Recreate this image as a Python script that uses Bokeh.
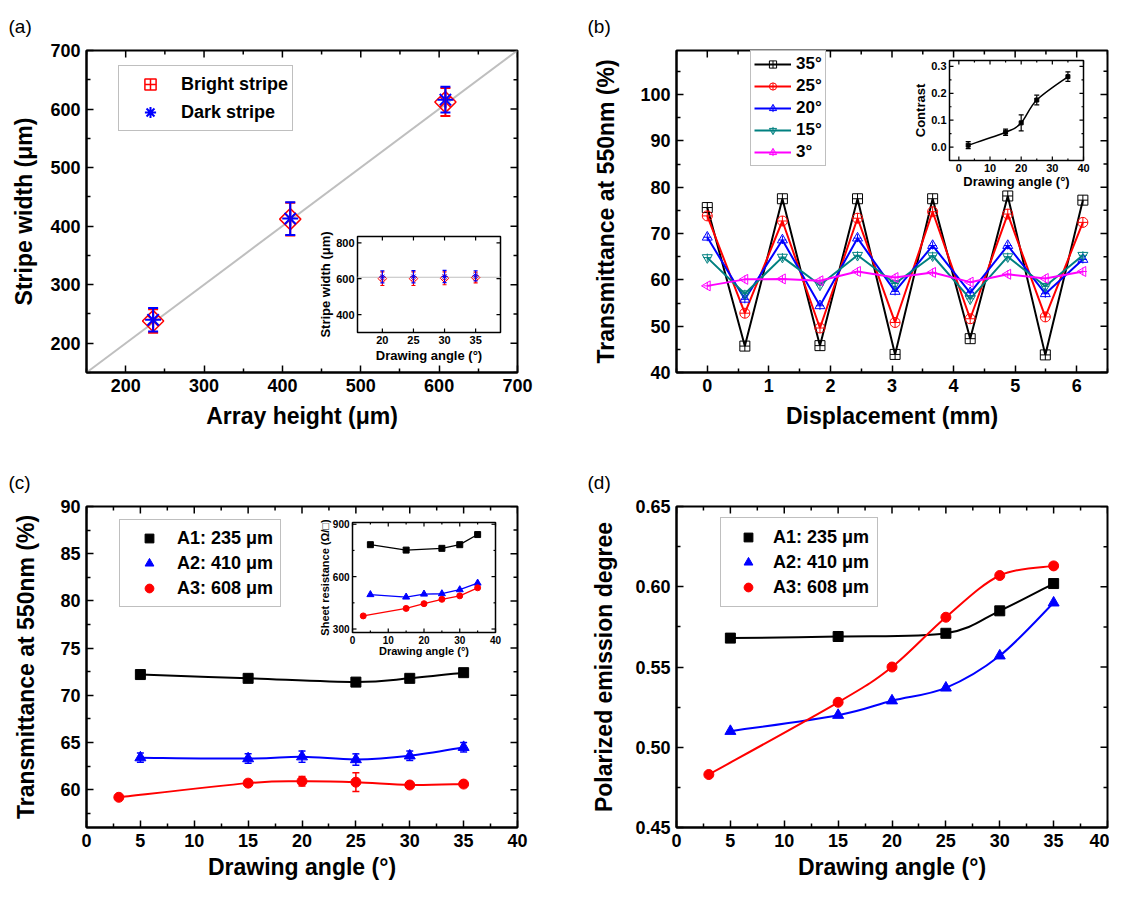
import math
from bokeh.plotting import figure
from bokeh.layouts import column, row
from bokeh.models import (Range1d, Legend, LegendItem, Whisker, TeeHead,
                          ColumnDataSource, Slope, FixedTicker, PrintfTickFormatter)
from bokeh.core.properties import value
from bokeh.embed import file_html
from bokeh.resources import INLINE

FONT = "Liberation Sans"
DEG = "\u00b0"
MU = "\u03bc"

# ---------------- data ----------------
# (a) stripe width vs array height
a_array_height = [235, 410, 608]
a_bright = [238, 412, 612]
a_bright_err = [20, 28, 24]
a_dark = [240, 413, 616]
a_dark_err = [20, 28, 22]
a_ticks = [200, 300, 400, 500, 600, 700]
a_minor = [150, 250, 350, 450, 550, 650]
# (a) inset
a_ins_angle = [20, 25, 30, 35]
a_ins_bright = [600, 600, 602, 606]
a_ins_bright_err = [38, 38, 36, 30]
a_ins_dark = [610, 611, 612, 616]
a_ins_dark_err = [34, 34, 34, 28]
a_ins_ref = [608]
a_ins_xticks = [20, 25, 30, 35]
a_ins_yticks = [400, 600, 800]

# (b) transmittance vs displacement
b_disp = [0, 0.61, 1.22, 1.83, 2.44, 3.05, 3.66, 4.27, 4.88, 5.49, 6.10]
b_labels = ["35" + DEG, "25" + DEG, "20" + DEG, "15" + DEG, "3" + DEG]
b_35 = [75.6, 45.7, 77.5, 45.8, 77.5, 43.9, 77.5, 47.3, 78.1, 43.8, 77.2]
b_25 = [73.8, 52.8, 72.7, 49.6, 73.3, 50.8, 74.7, 51.6, 74.2, 52.0, 72.4]
b_20 = [69.2, 55.8, 68.6, 54.4, 69.0, 57.5, 67.4, 57.2, 67.4, 57.0, 64.4]
b_15 = [64.8, 57.0, 64.9, 58.9, 65.3, 59.2, 65.2, 55.9, 65.0, 58.6, 65.3]
b_3 = [58.7, 60.1, 60.2, 59.8, 61.8, 60.5, 61.6, 59.5, 61.2, 60.3, 61.8]
b_xticks = [0, 1, 2, 3, 4, 5, 6]
b_xminor = [-0.5, 0.5, 1.5, 2.5, 3.5, 4.5, 5.5, 6.5]
b_yticks = [40, 50, 60, 70, 80, 90, 100]
b_yminor = [45, 55, 65, 75, 85, 95, 105]
# (b) inset
b_ins_angle = [3, 15, 20, 25, 35]
b_ins_contrast = [0.007, 0.055, 0.090, 0.175, 0.262]
b_ins_err = [0.013, 0.012, 0.030, 0.018, 0.018]
b_ins_xticks = [0, 10, 20, 30, 40]
b_ins_xminor = [5, 15, 25, 35]
b_ins_yticks = [0.0, 0.1, 0.2, 0.3]
b_ins_yminor = [0.05, 0.15, 0.25]

# (c) transmittance vs drawing angle
c_labels = ["A1: 235 " + MU + "m", "A2: 410 " + MU + "m", "A3: 608 " + MU + "m"]
c_a1_x = [5, 15, 25, 30, 35]
c_a1 = [72.2, 71.8, 71.4, 71.8, 72.4]
c_a1_err = [0.25, 0.2, 0.25, 0.2, 0.3]
c_a2_x = [5, 15, 20, 25, 30, 35]
c_a2 = [63.4, 63.3, 63.5, 63.2, 63.6, 64.5]
c_a2_err = [0.5, 0.5, 0.6, 0.6, 0.5, 0.5]
c_a3_x = [3, 15, 20, 25, 30, 35]
c_a3 = [59.2, 60.7, 60.9, 60.8, 60.5, 60.6]
c_a3_err = [0.2, 0.25, 0.5, 1.0, 0.3, 0.3]
c_xticks = [0, 5, 10, 15, 20, 25, 30, 35, 40]
c_xminor = [2.5, 7.5, 12.5, 17.5, 22.5, 27.5, 32.5, 37.5]
c_yticks = [60, 65, 70, 75, 80, 85, 90]
c_yminor = [57.5, 62.5, 67.5, 72.5, 77.5, 82.5, 87.5]
# (c) inset: sheet resistance
c_ins_a1 = [783, 752, 762, 783, 841]
c_ins_a2 = [497, 483, 500, 502, 525, 563]
c_ins_a3 = [375, 418, 445, 470, 490, 536]
c_ins_xticks = [0, 10, 20, 30, 40]
c_ins_xminor = [5, 15, 25, 35]
c_ins_yticks = [300, 600, 900]
c_ins_yminor = [450, 750]

# (d) polarized emission degree
d_a1 = [0.568, 0.569, 0.571, 0.585, 0.602]
d_a2 = [0.510, 0.520, 0.529, 0.537, 0.557, 0.590]
d_a3 = [0.483, 0.528, 0.550, 0.581, 0.607, 0.613]
d_yticks = [0.45, 0.50, 0.55, 0.60, 0.65]
d_yminor = [0.475, 0.525, 0.575, 0.625]

TEAL = "#008080"


# ---------------- helpers ----------------
def base_fig(xlim, ylim, fw, fh, mb):
    p = figure(x_range=Range1d(*xlim), y_range=Range1d(*ylim), frame_width=fw, frame_height=fh,
               min_border_left=mb[0], min_border_right=mb[1], min_border_top=mb[2],
               min_border_bottom=mb[3], toolbar_location=None, tools="", output_backend="svg")
    p.xgrid.visible = False
    p.ygrid.visible = False
    p.outline_line_color = "black"
    p.outline_line_width = 2
    p.outline_line_alpha = 1
    p.background_fill_color = "white"
    p.border_fill_color = "white"
    return p


def tick_style(ax):
    ax.axis_line_width = 2
    ax.axis_line_color = "black"
    ax.major_tick_in = 7
    ax.major_tick_out = 0
    ax.minor_tick_in = 4
    ax.minor_tick_out = 0
    ax.major_tick_line_width = 1.5
    ax.minor_tick_line_width = 1.5
    ax.major_tick_line_color = "black"
    ax.minor_tick_line_color = "black"


def style(p, xt, xm, yt, ym, xlab, ylab, yfmt=None, lab_standoff_x=8, lab_standoff_y=18):
    p.xaxis[0].ticker = FixedTicker(ticks=xt, minor_ticks=xm)
    p.yaxis[0].ticker = FixedTicker(ticks=yt, minor_ticks=ym)
    if yfmt:
        p.yaxis[0].formatter = PrintfTickFormatter(format=yfmt)
    p.xaxis[0].axis_label = xlab
    p.yaxis[0].axis_label = ylab
    for ax in (p.xaxis[0], p.yaxis[0]):
        tick_style(ax)
        ax.major_label_text_font = FONT
        ax.major_label_text_font_style = "bold"
        ax.major_label_text_font_size = "18px"
        ax.major_label_text_color = "black"
        ax.major_label_standoff = 6
        ax.axis_label_text_font = FONT
        ax.axis_label_text_font_style = "bold"
        ax.axis_label_text_font_size = "23px"
        ax.axis_label_text_color = "black"
    p.xaxis[0].axis_label_standoff = lab_standoff_x
    p.yaxis[0].axis_label_standoff = lab_standoff_y
    # mirrored inward ticks on the top and right frame edges
    x0, x1 = p.x_range.start, p.x_range.end
    y0, y1 = p.y_range.start, p.y_range.end
    kx = (x1 - x0) / p.frame_width
    ky = (y1 - y0) / p.frame_height
    s = dict(x0=[], y0=[], x1=[], y1=[])
    for vals, ln in ((xt, 7), (xm, 4)):
        for v in vals:
            s["x0"].append(v); s["y0"].append(y1); s["x1"].append(v); s["y1"].append(y1 - ln * ky)
    for vals, ln in ((yt, 7), (ym, 4)):
        for v in vals:
            s["x0"].append(x1); s["y0"].append(v); s["x1"].append(x1 - ln * kx); s["y1"].append(v)
    p.segment(x0=s["x0"], y0=s["y0"], x1=s["x1"], y1=s["y1"], line_color="black", line_width=1.5)


def panel_title(p, txt, offset, standoff):
    p.title.text = txt
    p.title.align = "left"
    p.title.offset = offset
    p.title.standoff = standoff
    p.title.text_font = FONT
    p.title.text_font_style = "normal"
    p.title.text_font_size = "19px"
    p.title.text_color = "black"


def bez(xs, ys):
    n = len(xs)
    d = dict(x0=[], y0=[], x1=[], y1=[], cx0=[], cy0=[], cx1=[], cy1=[])
    for i in range(n - 1):
        xm, ym = (xs[i - 1], ys[i - 1]) if i > 0 else (xs[i], ys[i])
        xp, yp = (xs[i + 2], ys[i + 2]) if i + 2 < n else (xs[i + 1], ys[i + 1])
        d["x0"].append(xs[i]); d["y0"].append(ys[i])
        d["x1"].append(xs[i + 1]); d["y1"].append(ys[i + 1])
        d["cx0"].append(xs[i] + (xs[i + 1] - xm) / 6.0)
        d["cy0"].append(ys[i] + (ys[i + 1] - ym) / 6.0)
        d["cx1"].append(xs[i + 1] - (xp - xs[i]) / 6.0)
        d["cy1"].append(ys[i + 1] - (yp - ys[i]) / 6.0)
    return d


def whisk(p, xs, ys, errs, color, lw=1.5, head=8, **kw):
    src = ColumnDataSource(dict(x=xs, up=[y + e for y, e in zip(ys, errs)],
                                lo=[y - e for y, e in zip(ys, errs)]))
    w = Whisker(source=src, base="x", upper="up", lower="lo", line_color=color, line_width=lw,
                upper_head=TeeHead(size=head, line_color=color, line_width=lw),
                lower_head=TeeHead(size=head, line_color=color, line_width=lw), **kw)
    w.level = "glyph"
    p.add_layout(w)


def txt(p, x, y, t, size, **kw):
    return p.text(x=x, y=y, text=t, text_font=value(FONT), text_font_style="bold",
                  text_font_size=value(size), text_color="black", **kw)


def add_inset(p, key, xlim, ylim, box, xt, yt, xlabels, ylabels, xminor, yminor,
              xlab, ylab, tick_fs, lab_fs, ylab_gap, xlab_gap):
    FW, FH = p.frame_width, p.frame_height
    L, T, R, B = box
    kx = (xlim[1] - xlim[0]) / (R - L)
    ky = (ylim[1] - ylim[0]) / (B - T)
    xs = xlim[0] - L * kx
    ys = ylim[0] - (FH - B) * ky
    p.extra_x_ranges[key] = Range1d(start=xs, end=xs + FW * kx)
    p.extra_y_ranges[key] = Range1d(start=ys, end=ys + FH * ky)
    kw = dict(x_range_name=key, y_range_name=key)
    p.quad(left=[xlim[0]], right=[xlim[1]], bottom=[ylim[0]], top=[ylim[1]],
           fill_color="white", line_color="black", line_width=1.5, **kw)
    s = dict(x0=[], y0=[], x1=[], y1=[])

    def add(a, b, c, d):
        s["x0"].append(a); s["y0"].append(b); s["x1"].append(c); s["y1"].append(d)
    for vals, ln in ((xt, 4), (xminor, 2)):
        for v in vals:
            add(v, ylim[0], v, ylim[0] + ln * ky)
            add(v, ylim[1], v, ylim[1] - ln * ky)
    for vals, ln in ((yt, 4), (yminor, 2)):
        for v in vals:
            add(xlim[0], v, xlim[0] + ln * kx, v)
            add(xlim[1], v, xlim[1] - ln * kx, v)
    p.segment(x0=s["x0"], y0=s["y0"], x1=s["x1"], y1=s["y1"], line_color="black",
              line_width=1.2, **kw)
    txt(p, xt, [ylim[0]] * len(xt), xlabels, tick_fs, text_align="center",
        text_baseline="top", y_offset=3, **kw)
    txt(p, [xlim[0]] * len(yt), yt, ylabels, tick_fs, text_align="right",
        text_baseline="middle", x_offset=-3, **kw)
    txt(p, [(xlim[0] + xlim[1]) / 2.0], [ylim[0]], [xlab], lab_fs, text_align="center",
        text_baseline="top", y_offset=xlab_gap, **kw)
    txt(p, [xlim[0]], [(ylim[0] + ylim[1]) / 2.0], [ylab], lab_fs, angle=math.pi / 2,
        text_align="center", text_baseline="bottom", x_offset=-ylab_gap, **kw)
    return kw


def legend(p, items, loc, fs, gw, gh, pad, spacing, standoff):
    lg = Legend(items=items, location=loc, label_text_font=FONT, label_text_font_style="bold",
                label_text_font_size=fs, label_text_color="black", border_line_color="#808080",
                border_line_width=1, padding=pad, spacing=spacing, glyph_width=gw,
                glyph_height=gh, label_height=gh, label_standoff=standoff, margin=0,
                background_fill_color="white", background_fill_alpha=1)
    p.add_layout(lg)


# ---------------- (a) ----------------
pa = base_fig((150, 700), (150, 700), 431, 322, (86, 67, 50, 72))
style(pa, a_ticks, a_minor, a_ticks, a_minor, "Array height (" + MU + "m)",
      "Stripe width (" + MU + "m)", lab_standoff_y=10)
panel_title(pa, "(a)", -78, 27)
pa.add_layout(Slope(gradient=1, y_intercept=0, line_color="#bfbfbf", line_width=2, level="underlay"))
whisk(pa, a_array_height, a_bright, a_bright_err, "red", lw=2, head=10)
whisk(pa, a_array_height, a_dark, a_dark_err, "blue", lw=2, head=10)
ra1 = pa.scatter(a_array_height, a_bright, marker="square_cross", angle=math.pi / 4, size=15,
                 line_color="red", fill_alpha=0, line_width=1.5)
ra2 = pa.scatter(a_array_height, a_dark, marker="asterisk", size=16, line_color="blue",
                 line_width=2)
legend(pa, [LegendItem(label="Bright stripe", renderers=[ra1]),
            LegendItem(label="Dark stripe", renderers=[ra2])],
       (32, 241), "18px", 54, 28, 4, -3, 4)
kwa = add_inset(pa, "ins", [16, 39], [300, 835], (271, 186, 414, 282),
                a_ins_xticks, a_ins_yticks, [str(v) for v in a_ins_xticks],
                [str(v) for v in a_ins_yticks], [], [], "Drawing angle (" + DEG + ")",
                "Stripe width (" + MU + "m)", "11px", "13px", 25, 15)
pa.segment(x0=[16], x1=[39], y0=a_ins_ref, y1=a_ins_ref, line_color="#bfbfbf", line_width=1.2, **kwa)
whisk(pa, a_ins_angle, a_ins_bright, a_ins_bright_err, "red", lw=1.2, head=4, **kwa)
whisk(pa, a_ins_angle, a_ins_dark, a_ins_dark_err, "blue", lw=1.2, head=4, **kwa)
pa.scatter(a_ins_angle, a_ins_bright, marker="square_cross", angle=math.pi / 4, size=6,
           line_color="red", fill_alpha=0, line_width=1, **kwa)
pa.scatter(a_ins_angle, a_ins_dark, marker="asterisk", size=6, line_color="blue",
           line_width=1, **kwa)

# ---------------- (b) ----------------
pb = base_fig((-0.5, 6.5), (40, 109.5), 431, 322, (92, 2, 50, 72))
style(pb, b_xticks, b_xminor, b_yticks, b_yminor, "Displacement (mm)",
      "Transmittance at 550nm (%)")
panel_title(pb, "(b)", -89, 27)
b_series = [b_35, b_25, b_20, b_15, b_3]
b_colors = ["black", "red", "blue", TEAL, "magenta"]
b_marks = [("square_cross", 0, False), ("circle_cross", 0, False), ("triangle", 0, True),
           ("inverted_triangle", 0, True), ("triangle", math.pi / 2, True)]
b_items = []
for ser, col, (mk, ang, cross), lab in zip(b_series, b_colors, b_marks, b_labels):
    rl = pb.line(b_disp, ser, line_color=col, line_width=2)
    rs = pb.scatter(b_disp, ser, marker=mk, angle=ang, size=10, line_color=col,
                    fill_alpha=0, line_width=1)
    rens = [rl, rs]
    if cross:
        rc = pb.scatter(b_disp, ser, marker="cross", size=8, line_color=col, line_width=1)
        rens.append(rc)
    b_items.append(LegendItem(label=lab, renderers=rens))
legend(pb, b_items, (74, 206), "17px", 37, 18, 3, 2, 5)
kwb = add_inset(pb, "ins", [-3, 40], [-0.05, 0.322], (273, 10, 407, 110),
                b_ins_xticks, b_ins_yticks, [str(v) for v in b_ins_xticks],
                ["%.1f" % v for v in b_ins_yticks], b_ins_xminor, b_ins_yminor,
                "Drawing angle (" + DEG + ")", "Contrast", "11px", "13px", 22, 13)
bb = bez(b_ins_angle, b_ins_contrast)
pb.bezier(x0=bb["x0"], y0=bb["y0"], x1=bb["x1"], y1=bb["y1"], cx0=bb["cx0"], cy0=bb["cy0"],
          cx1=bb["cx1"], cy1=bb["cy1"], line_color="black", line_width=1.5, **kwb)
whisk(pb, b_ins_angle, b_ins_contrast, b_ins_err, "black", lw=1.2, head=5, **kwb)
pb.scatter(b_ins_angle, b_ins_contrast, marker="square", size=4, color="black", **kwb)

# ---------------- (c) ----------------
pc = base_fig((0, 40), (56, 90), 431, 321, (86, 67, 62, 56))
style(pc, c_xticks, c_xminor, c_yticks, c_yminor, "Drawing angle (" + DEG + ")",
      "Transmittance at 550nm (%)", lab_standoff_x=4)
panel_title(pc, "(c)", -78, 28)
c_sets = [(c_a1_x, c_a1, c_a1_err, "black", "square", 10),
          (c_a2_x, c_a2, c_a2_err, "blue", "triangle", 11),
          (c_a3_x, c_a3, c_a3_err, "red", "circle", 10)]
c_items = []
for (xs, ys, es, col, mk, sz), lab in zip(c_sets, c_labels):
    d = bez(xs, ys)
    pc.bezier(x0=d["x0"], y0=d["y0"], x1=d["x1"], y1=d["y1"], cx0=d["cx0"], cy0=d["cy0"],
              cx1=d["cx1"], cy1=d["cy1"], line_color=col, line_width=2)
    whisk(pc, xs, ys, es, col, lw=1.5, head=7)
    rs = pc.scatter(xs, ys, marker=mk, size=sz, color=col)
    rl = pc.line([], [], line_color=col, line_width=2)
    c_items.append(LegendItem(label=lab, renderers=[rl, rs]))
legend(pc, c_items, (33, 220), "18px", 44, 22, 7, 3, 6)
kwc = add_inset(pc, "ins", [0, 40], [280, 910], (266, 16, 409, 126),
                c_ins_xticks, c_ins_yticks, [str(v) for v in c_ins_xticks],
                [str(v) for v in c_ins_yticks], c_ins_xminor, c_ins_yminor,
                "Drawing angle (" + DEG + ")", "Sheet resistance (\u03a9/\u25a1)", "10px",
                "11px", 22, 12)
for xs, ys, col, mk, sz in ((c_a1_x, c_ins_a1, "black", "square", 6),
                            (c_a2_x, c_ins_a2, "blue", "triangle", 7),
                            (c_a3_x, c_ins_a3, "red", "circle", 6)):
    pc.line(xs, ys, line_color=col, line_width=1.3, **kwc)
    pc.scatter(xs, ys, marker=mk, size=sz, color=col, **kwc)

# ---------------- (d) ----------------
pd = base_fig((0, 40), (0.45, 0.65), 431, 321, (92, 2, 62, 56))
style(pd, c_xticks, c_xminor, d_yticks, d_yminor, "Drawing angle (" + DEG + ")",
      "Polarized emission degree", yfmt="%.2f", lab_standoff_x=4, lab_standoff_y=15)
panel_title(pd, "(d)", -89, 28)
d_sets = [(c_a1_x, d_a1, "black", "square", 10),
          (c_a2_x, d_a2, "blue", "triangle", 11),
          (c_a3_x, d_a3, "red", "circle", 10)]
d_items = []
for (xs, ys, col, mk, sz), lab in zip(d_sets, c_labels):
    d = bez(xs, ys)
    pd.bezier(x0=d["x0"], y0=d["y0"], x1=d["x1"], y1=d["y1"], cx0=d["cx0"], cy0=d["cy0"],
              cx1=d["cx1"], cy1=d["cy1"], line_color=col, line_width=2)
    rs = pd.scatter(xs, ys, marker=mk, size=sz, color=col)
    rl = pd.line([], [], line_color=col, line_width=2)
    d_items.append(LegendItem(label=lab, renderers=[rl, rs]))
legend(pd, d_items, (44, 220), "18px", 38, 22, 8, 3, 6)

layout = column(row(pa, pb), row(pc, pd))
open("out.html", "w").write(file_html(layout, INLINE))
